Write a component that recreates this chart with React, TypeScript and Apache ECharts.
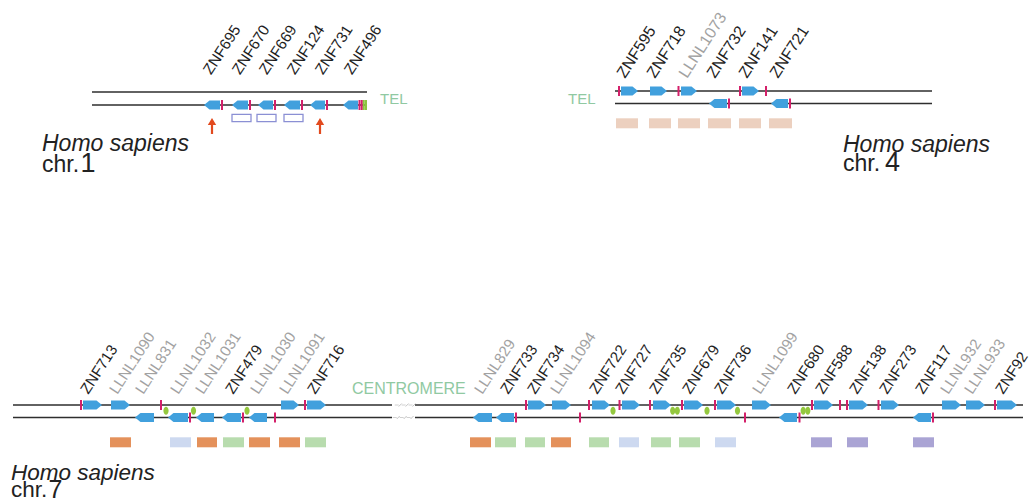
import React, { useEffect, useRef } from "react";
import * as echarts from "echarts";

const W = 1032;
const H = 503;
const FONT = '"Liberation Sans", Arial, Helvetica, sans-serif';

// ---------------- DATA (positions along each chromosome, in drawing units) ----------------
// strand: 1 = upper strand (arrow to the right), -1 = lower strand (arrow to the left)

// chromosome 1
const chr1Extent = [92, 367];
const chr1Genes = [[204, 220, -1], [232, 248, -1], [258, 273, -1], [284, 300, -1], [310, 325, -1], [343, 358, -1]];
const chr1Ticks = [[222, -1], [250, -1], [275, -1], [302, -1], [327, -1], [359.5, -1], [361.8, -1]];
const chr1TelMarks = [[363.8, -1], [366, -1]];
const chr1OpenBoxes = [[232, 251], [257, 276], [284, 303]];
const chr1Arrows = [212, 320];
const chr1LabelNames = ["ZNF695", "ZNF670", "ZNF669", "ZNF124", "ZNF731", "ZNF496"];
const chr1LabelPos = [211, 240, 267, 295, 323, 352];

// chromosome 4
const chr4Extent = [615, 932];
const chr4Genes = [[621, 638, 1], [650, 667, 1], [681, 697, 1], [742, 759, 1], [709, 727, -1], [771, 788, -1]];
const chr4Ticks = [[619, 1], [678.5, 1], [740, 1], [766, 1], [729, -1], [790, -1]];
const chr4Boxes = [[616, 638], [649, 671], [678, 700], [708, 731], [739, 761], [769, 792]];
const chr4LabelNames = ["ZNF595", "ZNF718", "LLNL1073", "ZNF732", "ZNF141", "ZNF721"];
const chr4LabelPos = [625, 655, 687, 715, 747, 778];

// chromosome 7
const chr7Extent = [13, 1023];
const chr7Centromere = [392, 415];
const chr7Genes = [
  [83, 102, 1], [111, 130, 1], [281, 299, 1], [307, 326, 1], [528, 546, 1], [552, 571, 1],
  [592, 610, 1], [622, 640, 1], [653, 671, 1], [684, 703, 1], [717, 736, 1], [752, 771, 1],
  [814, 833, 1], [849, 868, 1], [881, 899, 1], [942, 961, 1], [966, 985, 1], [997, 1017, 1],
  [135, 154, -1], [168, 188, -1], [196, 214, -1], [222, 241, -1], [249, 267, -1],
  [473, 492, -1], [496, 514, -1], [779, 797, -1], [913, 931, -1],
];
const chr7Ticks = [
  [81, 1], [161, 1], [305, 1], [526, 1], [589, 1], [619.5, 1], [650, 1], [682, 1], [715, 1],
  [812, 1], [840, 1], [847, 1], [878.5, 1], [995, 1],
  [190, -1], [243, -1], [275, -1], [516, -1], [580, -1], [745, -1], [799.5, -1], [933, -1],
];
const chr7Ellipses = [[166, 1], [193.5, 1], [247, 1], [613, 1], [675, 2], [707, 1], [737.5, 1], [805.5, 2]];
const chr7Boxes = [
  [110, 131, "orange"], [170, 191, "blue"], [197, 217, "orange"], [223, 244, "green"],
  [249, 270, "orange"], [279, 300, "orange"], [305, 326, "green"], [470, 491, "orange"],
  [495, 516, "green"], [525, 545, "green"], [551, 571, "orange"], [589, 609, "green"],
  [619, 639, "blue"], [651, 671, "green"], [679, 700, "green"], [715, 736, "blue"],
  [811, 832, "purple"], [847, 868, "purple"], [913, 934, "purple"],
];
const chr7LabelNames = [
  "ZNF713", "LLNL1090", "LLNL831", "LLNL1032", "LLNL1031", "ZNF479", "LLNL1030", "LLNL1091", "ZNF716",
  "LLNL829", "ZNF733", "ZNF734", "LLNL1094", "ZNF722", "ZNF727", "ZNF735", "ZNF679", "ZNF736",
  "LLNL1099", "ZNF680", "ZNF588", "ZNF138", "ZNF273", "ZNF117", "LLNL932", "LLNL933", "ZNF92",
];
const chr7LabelPos = [
  88, 117, 143, 178, 203, 233, 258, 287, 315,
  482, 508, 535, 558, 597, 623, 657, 690, 722,
  760, 795, 823, 857, 887, 923, 948, 972, 1003,
];

// ---------------- LAYOUT & STYLE ----------------
const LAYOUT = {
  chr1: { top: 92, bot: 105, boxTop: 114.3, boxBot: 121.7, labelY: 75.5, fs: 15.3 },
  chr4: { top: 91, bot: 103.5, boxTop: 118.3, boxBot: 128.3, labelY: 79, fs: 16 },
  chr7: { top: 405, bot: 417.5, boxTop: 437.3, boxBot: 447.3, labelY: 395, fs: 15.2 },
};
const ARROW_Y = { tip: 118, base: 134 };
const ELLIPSE_Y = 410.8;
const LABEL_ANGLE = 57;

const COLORS = {
  line: "#2e2e2e",
  gene: "#41a0dd",
  tick: "#d4206a",
  tel: "#8cc63f",
  ellipse: "#94c83e",
  arrow: "#e24a1e",
  outline: "#8b90d4",
  tan: "#ecd0bf",
  orange: "#e4915b",
  green: "#b8dcae",
  blue: "#cdd9f0",
  purple: "#aaa4d4",
  greenText: "#90c9a2",
  zn: "#1e1e1e",
  llnl: "#a2a2a2",
};
const BOX_KIND = ["outline", "tan", "orange", "green", "blue", "purple"];

// ---------------- build series data ----------------
type Lay = { top: number; bot: number; boxTop: number; boxBot: number; labelY: number; fs: number };
const strandY = (lay: Lay, s: number) => (s > 0 ? lay.top : lay.bot);

const lineData: number[][] = [];
const addLine = (x0: number, x1: number, y: number) => lineData.push([x0, x1, y]);
addLine(chr1Extent[0], chr1Extent[1], LAYOUT.chr1.top);
addLine(chr1Extent[0], chr1Extent[1], LAYOUT.chr1.bot);
addLine(chr4Extent[0], chr4Extent[1], LAYOUT.chr4.top);
addLine(chr4Extent[0], chr4Extent[1], LAYOUT.chr4.bot);
[LAYOUT.chr7.top, LAYOUT.chr7.bot].forEach((y) => {
  addLine(chr7Extent[0], chr7Centromere[0], y);
  addLine(chr7Centromere[1], chr7Extent[1], y);
});

const geneData: number[][] = [];
const tickData: number[][] = [];
const boxData: number[][] = [];
const labelData: { x: number; y: number; name: string; fs: number }[] = [];

const addChr = (lay: Lay, genes: number[][], ticks: number[][], names: string[], pos: number[]) => {
  genes.forEach((g) => geneData.push([g[0], g[1], strandY(lay, g[2]), g[2]]));
  ticks.forEach((t) => tickData.push([t[0], strandY(lay, t[1]), 0]));
  names.forEach((n, i) => labelData.push({ x: pos[i], y: lay.labelY, name: n, fs: lay.fs }));
};
addChr(LAYOUT.chr1, chr1Genes, chr1Ticks, chr1LabelNames, chr1LabelPos);
addChr(LAYOUT.chr4, chr4Genes, chr4Ticks, chr4LabelNames, chr4LabelPos);
addChr(LAYOUT.chr7, chr7Genes, chr7Ticks, chr7LabelNames, chr7LabelPos);
chr1TelMarks.forEach((t) => tickData.push([t[0], strandY(LAYOUT.chr1, t[1]), 1]));

chr1OpenBoxes.forEach((b) => boxData.push([b[0], b[1], LAYOUT.chr1.boxTop, LAYOUT.chr1.boxBot, 0]));
chr4Boxes.forEach((b) => boxData.push([b[0], b[1], LAYOUT.chr4.boxTop, LAYOUT.chr4.boxBot, 1]));
chr7Boxes.forEach((b) =>
  boxData.push([b[0] as number, b[1] as number, LAYOUT.chr7.boxTop, LAYOUT.chr7.boxBot, BOX_KIND.indexOf(b[2] as string)])
);

const ellipseData = chr7Ellipses.map((e) => [e[0], ELLIPSE_Y, e[1]]);
const arrowData = chr1Arrows.map((x) => [x, ARROW_Y.tip, ARROW_Y.base]);
// centromere gap: short light dashes and slashes
const slashData: number[][] = [];
[LAYOUT.chr7.top, LAYOUT.chr7.bot].forEach((y, k) => {
  [0.12, 0.42, 0.72].forEach((f) => slashData.push([chr7Centromere[0] + f * (chr7Centromere[1] - chr7Centromere[0]) - k * 2, y]));
});

const txt = (x: number, y: number, text: string, font: string, fill: string) => ({
  type: "text",
  x,
  y,
  style: { text, font, fill, textAlign: "left", align: "left", textVerticalAlign: "middle", verticalAlign: "middle" },
});
// baseline y -> middle y (centre of em box is ~0.35em above baseline)
const speciesText = (x: number, b1: number, b2: number, num: string, numX: number, fs: number, numFs: number) => [
  txt(x, b1 - 0.35 * fs, "Homo sapiens", `italic ${fs}px ${FONT}`, "#222"),
  txt(x, b2 - 0.35 * fs, "chr.", `${fs}px ${FONT}`, "#222"),
  txt(numX, b2 - 0.35 * numFs, num, `${numFs}px ${FONT}`, "#222"),
];

// ---------------- option ----------------
const option: any = {
  animation: false,
  backgroundColor: "#ffffff",
  grid: { left: 0, right: 0, top: 0, bottom: 0, containLabel: false },
  xAxis: { type: "value", min: 0, max: W, show: false },
  yAxis: { type: "value", min: 0, max: H, inverse: true, show: false },
  graphic: [
    ...speciesText(42, 151, 172.5, "1", 80.5, 23, 27),
    ...speciesText(843, 152, 171.5, "4", 885, 23, 27),
    ...speciesText(11, 480, 497.5, "7", 48.5, 22.5, 25),
    txt(380, 98.5, "TEL", `15px ${FONT}`, COLORS.greenText),
    txt(568, 98, "TEL", `15px ${FONT}`, COLORS.greenText),
    txt(352, 388.5, "CENTROMERE", `16px ${FONT}`, COLORS.greenText),
  ],
  series: [
    {
      type: "custom",
      name: "chromosome",
      data: lineData,
      encode: { x: [0, 1], y: 2 },
      renderItem: (params: any, api: any) => {
        const a = api.coord([api.value(0), api.value(2)]);
        const b = api.coord([api.value(1), api.value(2)]);
        return {
          type: "line",
          shape: { x1: a[0], y1: a[1], x2: b[0], y2: b[1] },
          style: { stroke: COLORS.line, lineWidth: 1.5 },
        };
      },
    },
    {
      type: "custom",
      name: "centromere",
      data: slashData,
      encode: { x: 0, y: 1 },
      renderItem: (params: any, api: any) => {
        const p = api.coord([api.value(0), api.value(1)]);
        return {
          type: "group",
          children: [
            { type: "line", shape: { x1: p[0], y1: p[1], x2: p[0] + 4, y2: p[1] }, style: { stroke: "#d0d0d0", lineWidth: 1 } },
            { type: "line", shape: { x1: p[0] + 4, y1: p[1] + 1.5, x2: p[0] + 7, y2: p[1] - 1.5 }, style: { stroke: "#c4c4c4", lineWidth: 1 } },
          ],
        };
      },
    },
    {
      type: "custom",
      name: "genes",
      data: geneData,
      encode: { x: [0, 1], y: 2 },
      renderItem: (params: any, api: any) => {
        const a = api.coord([api.value(0), api.value(2)]);
        const b = api.coord([api.value(1), api.value(2)]);
        const dir = api.value(3);
        const h = 4.6;
        const p = 5.5;
        const y = a[1];
        const x0 = a[0];
        const x1 = b[0];
        const pts =
          dir > 0
            ? [[x0, y - h], [x1 - p, y - h], [x1, y], [x1 - p, y + h], [x0, y + h]]
            : [[x1, y - h], [x0 + p, y - h], [x0, y], [x0 + p, y + h], [x1, y + h]];
        return { type: "polygon", shape: { points: pts }, style: { fill: COLORS.gene } };
      },
    },
    {
      type: "custom",
      name: "ticks",
      data: tickData,
      encode: { x: 0, y: 1 },
      renderItem: (params: any, api: any) => {
        const p = api.coord([api.value(0), api.value(1)]);
        const kind = api.value(2);
        return {
          type: "rect",
          shape: { x: p[0] - 1, y: p[1] - 5, width: 2, height: 10 },
          style: { fill: kind === 1 ? COLORS.tel : COLORS.tick },
        };
      },
    },
    {
      type: "custom",
      name: "ellipses",
      data: ellipseData,
      encode: { x: 0, y: 1 },
      renderItem: (params: any, api: any) => {
        const p = api.coord([api.value(0), api.value(1)]);
        const n = api.value(2);
        const xs = n === 2 ? [p[0] - 2.3, p[0] + 2.3] : [p[0]];
        return {
          type: "group",
          children: xs.map((x: number) => ({
            type: "ellipse",
            shape: { cx: x, cy: p[1], rx: 2.6, ry: 4 },
            style: { fill: COLORS.ellipse },
          })),
        };
      },
    },
    {
      type: "custom",
      name: "boxes",
      data: boxData,
      encode: { x: [0, 1], y: [2, 3] },
      renderItem: (params: any, api: any) => {
        const a = api.coord([api.value(0), api.value(2)]);
        const b = api.coord([api.value(1), api.value(3)]);
        const kind = BOX_KIND[api.value(4)];
        const outline = kind === "outline";
        return {
          type: "rect",
          shape: { x: a[0], y: a[1], width: b[0] - a[0], height: b[1] - a[1] },
          style: outline
            ? { fill: "none", stroke: COLORS.outline, lineWidth: 1.3 }
            : { fill: (COLORS as any)[kind] },
        };
      },
    },
    {
      type: "custom",
      name: "arrows",
      data: arrowData,
      encode: { x: 0, y: [1, 2] },
      renderItem: (params: any, api: any) => {
        const tip = api.coord([api.value(0), api.value(1)]);
        const base = api.coord([api.value(0), api.value(2)]);
        const x = tip[0];
        return {
          type: "group",
          children: [
            { type: "line", shape: { x1: x, y1: tip[1] + 5, x2: x, y2: base[1] }, style: { stroke: COLORS.arrow, lineWidth: 2.2 } },
            { type: "polygon", shape: { points: [[x, tip[1]], [x + 4.2, tip[1] + 7], [x - 4.2, tip[1] + 7]] }, style: { fill: COLORS.arrow } },
          ],
        };
      },
    },
    {
      type: "custom",
      name: "labels",
      data: labelData.map((l) => [l.x, l.y]),
      encode: { x: 0, y: 1 },
      renderItem: (params: any, api: any) => {
        const l = labelData[params.dataIndex];
        const p = api.coord([api.value(0), api.value(1)]);
        const th = (LABEL_ANGLE * Math.PI) / 180;
        const off = 0.35 * l.fs;
        const gray = l.name.indexOf("LLNL") === 0;
        return {
          type: "text",
          x: p[0] - off * Math.sin(th),
          y: p[1] - off * Math.cos(th),
          rotation: th,
          style: {
            text: l.name,
            font: `${l.fs}px ${FONT}`,
            fill: gray ? COLORS.llnl : COLORS.zn,
            textAlign: "left",
            align: "left",
            textVerticalAlign: "middle",
            verticalAlign: "middle",
          },
        };
      },
    },
  ],
};

export default function App() {
  const ref = useRef<HTMLDivElement>(null);
  useEffect(() => {
    document.body.style.margin = "0";
    const chart = echarts.init(ref.current as HTMLDivElement, undefined, { renderer: "svg" });
    chart.setOption(option);
    return () => chart.dispose();
  }, []);
  return (
    <div
      ref={ref}
      style={{ position: "absolute", left: 0, top: 0, width: W, height: H, background: "#ffffff" }}
    />
  );
}
